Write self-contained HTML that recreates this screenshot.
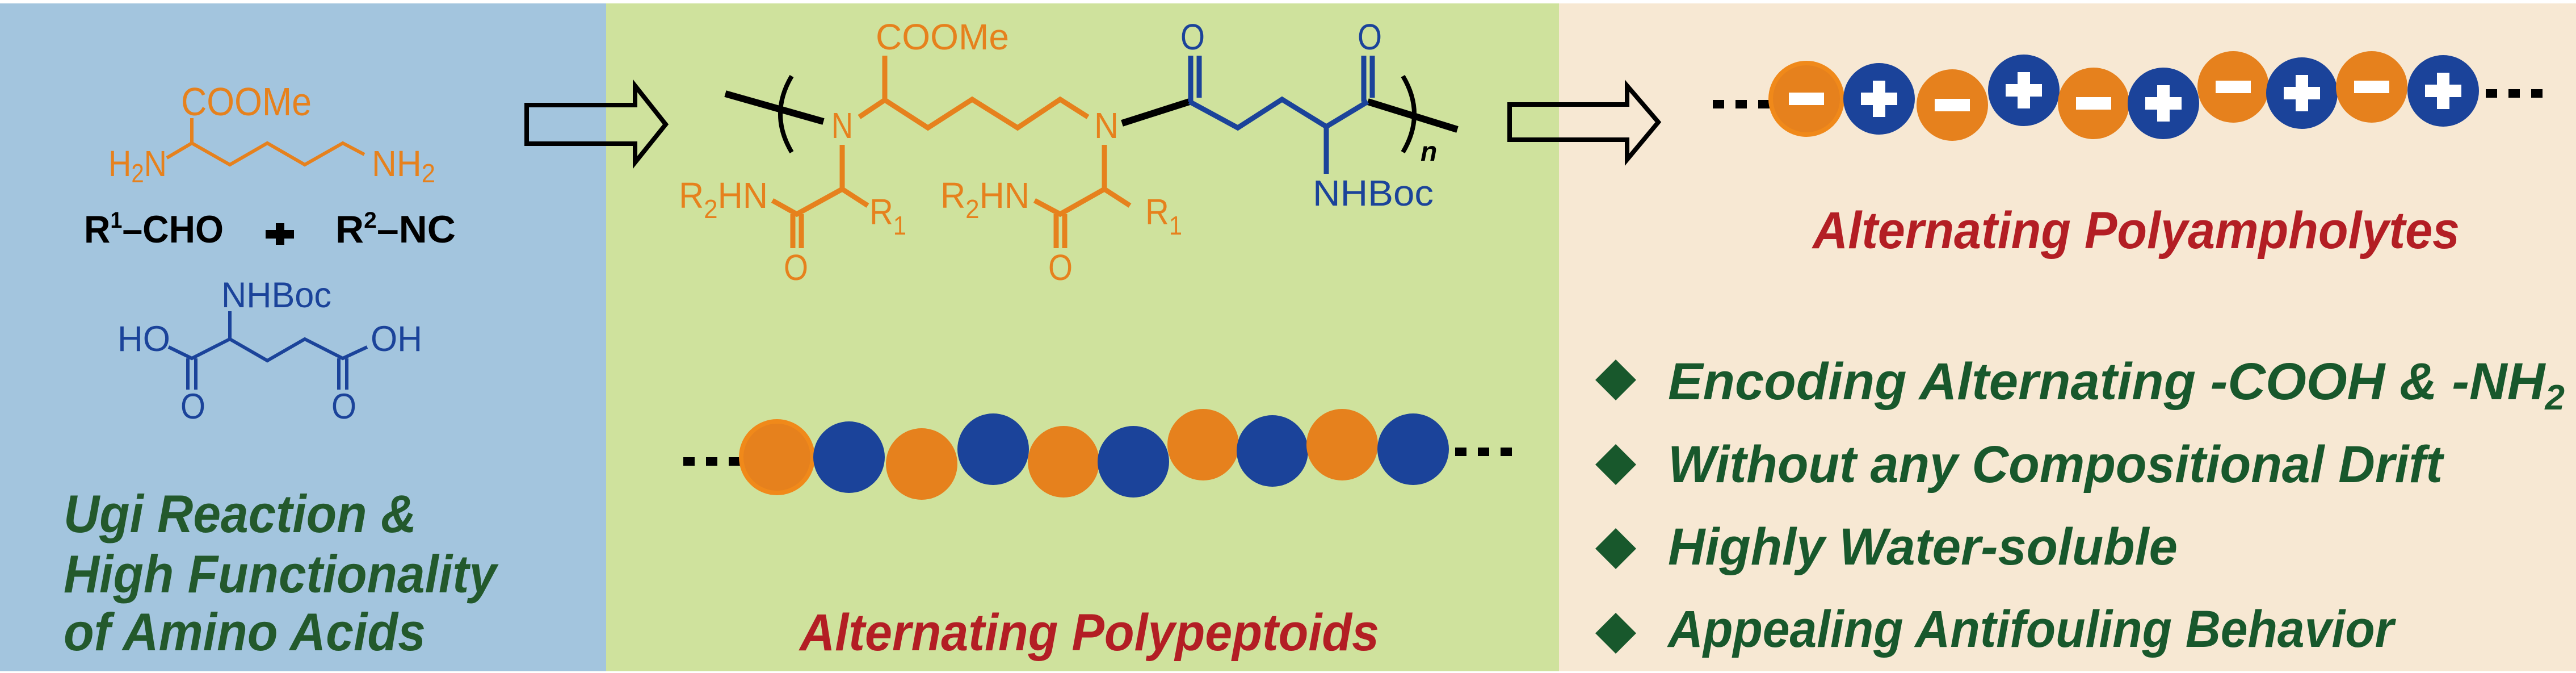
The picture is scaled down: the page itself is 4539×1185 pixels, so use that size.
<!DOCTYPE html>
<html><head><meta charset="utf-8"><style>
html,body{margin:0;padding:0;background:#fff}
svg{display:block}
.c{font-family:"Liberation Sans",sans-serif}
.h{font-family:"Liberation Sans",sans-serif;font-weight:bold;font-style:italic}
</style></head><body>
<svg width="4539" height="1185" viewBox="0 0 4539 1185" xmlns="http://www.w3.org/2000/svg">
<rect x="0" y="0" width="4539" height="1185" fill="#fff"/>
<rect x="0" y="6" width="1068" height="1176" fill="#a3c5de"/>
<rect x="1068" y="6" width="1679" height="1176" fill="#cfe29d"/>
<rect x="2747" y="6" width="1792" height="1176" fill="#f7e8d3"/>

<!-- Left panel chemistry -->
<g fill="none" stroke="#e6811d" stroke-width="6" stroke-linejoin="miter">
<polyline points="294,278 338,252 405,290 471,252 537,290 604,252 642,272"/>
<line x1="338" y1="252" x2="338" y2="208"/>
</g>
<g class="c" fill="#e6811d">
<text x="319" y="203" font-size="70" textLength="230" lengthAdjust="spacingAndGlyphs">COOMe</text>
<text x="191" y="310" font-size="64" textLength="103" lengthAdjust="spacingAndGlyphs">H<tspan font-size="46" dy="11">2</tspan><tspan dy="-11">N</tspan></text>
<text x="655" y="310" font-size="64" textLength="112" lengthAdjust="spacingAndGlyphs">NH<tspan font-size="46" dy="11">2</tspan></text>
</g>
<g class="c" fill="#000" font-weight="bold">
<text x="148" y="427" font-size="68" textLength="246" lengthAdjust="spacingAndGlyphs">R<tspan font-size="40" dy="-26">1</tspan><tspan dy="26">–CHO</tspan></text>
<text x="591" y="427" font-size="68" textLength="212" lengthAdjust="spacingAndGlyphs">R<tspan font-size="40" dy="-26">2</tspan><tspan dy="26">–NC</tspan></text>
</g>
<rect x="468" y="405" width="50" height="15" fill="#000"/>
<rect x="486" y="393" width="15" height="38" fill="#000"/>
<g fill="none" stroke="#1b439a" stroke-width="6">
<line x1="405" y1="548" x2="405" y2="597"/>
<polyline points="297,611 338,631 405,597 471,635 537,597 604,631 647,611"/>
<line x1="331" y1="631" x2="331" y2="686"/><line x1="345" y1="631" x2="345" y2="686"/>
<line x1="597" y1="631" x2="597" y2="686"/><line x1="611" y1="631" x2="611" y2="686"/>
</g>
<g class="c" fill="#1b439a">
<text x="390" y="541" font-size="63" textLength="194" lengthAdjust="spacingAndGlyphs">NHBoc</text>
<text x="207" y="618" font-size="63" textLength="93" lengthAdjust="spacingAndGlyphs">HO</text>
<text x="653" y="618" font-size="63" textLength="91" lengthAdjust="spacingAndGlyphs">OH</text>
<text x="318" y="737" font-size="63" textLength="44" lengthAdjust="spacingAndGlyphs">O</text>
<text x="584" y="737" font-size="63" textLength="44" lengthAdjust="spacingAndGlyphs">O</text>
</g>
<g class="h" fill="#23592c" font-size="94">
<text x="112" y="937" textLength="622" lengthAdjust="spacingAndGlyphs">Ugi Reaction &amp;</text>
<text x="112" y="1043" textLength="763" lengthAdjust="spacingAndGlyphs">High Functionality</text>
<text x="112" y="1145" textLength="638" lengthAdjust="spacingAndGlyphs">of Amino Acids</text>
</g>

<!-- arrows -->
<path d="M928,185 H1119 V151 L1173,219 L1119,286 V253 H928 Z" fill="none" stroke="#000" stroke-width="8" stroke-linejoin="miter"/>
<path d="M2660,184 H2867 V151 L2922,215 L2867,281 V246 H2660 Z" fill="none" stroke="#000" stroke-width="8" stroke-linejoin="miter"/>

<!-- Middle panel chemistry -->
<g fill="none" stroke="#000" stroke-width="12">
<line x1="1278" y1="165" x2="1451" y2="214"/>
<line x1="1977" y1="217" x2="2096" y2="179"/>
<line x1="2410" y1="179" x2="2568" y2="228"/>
</g>
<g fill="none" stroke="#000" stroke-width="8">
<path d="M1395,134 Q1355,201 1395,268"/>
<path d="M2472,134 Q2512,201 2472,268"/>
</g>
<g fill="none" stroke="#e6811d" stroke-width="9">
<polyline points="1514,206 1559,176 1635,225 1713,175 1793,225 1868,175 1917,206"/>
<line x1="1559" y1="176" x2="1559" y2="98"/>
<line x1="1484" y1="255" x2="1484" y2="333"/>
<polyline points="1529,362 1484,333 1404,377 1361,353"/>
<line x1="1397" y1="377" x2="1397" y2="437"/><line x1="1412" y1="377" x2="1412" y2="437"/>
<line x1="1946" y1="255" x2="1946" y2="333"/>
<polyline points="1991,362 1946,333 1868,377 1823,353"/>
<line x1="1861" y1="377" x2="1861" y2="437"/><line x1="1876" y1="377" x2="1876" y2="437"/>
</g>
<g fill="none" stroke="#1b439a" stroke-width="9">
<polyline points="2096,179 2181,225 2259,175 2337,223 2410,179"/>
<line x1="2098" y1="98" x2="2098" y2="179"/><line x1="2113" y1="98" x2="2113" y2="172"/>
<line x1="2403" y1="98" x2="2403" y2="179"/><line x1="2418" y1="98" x2="2418" y2="172"/>
<line x1="2337" y1="223" x2="2337" y2="306"/>
</g>
<g class="c" fill="#e6811d" font-size="64">
<text x="1543" y="87" textLength="235" lengthAdjust="spacingAndGlyphs">COOMe</text>
<text x="1465" y="243" textLength="38" lengthAdjust="spacingAndGlyphs">N</text>
<text x="1928" y="243" textLength="43" lengthAdjust="spacingAndGlyphs">N</text>
<text x="1196" y="366" textLength="157" lengthAdjust="spacingAndGlyphs">R<tspan font-size="46" dy="18">2</tspan><tspan dy="-18">HN</tspan></text>
<text x="1657" y="366" textLength="157" lengthAdjust="spacingAndGlyphs">R<tspan font-size="46" dy="18">2</tspan><tspan dy="-18">HN</tspan></text>
<text x="1532" y="395" textLength="65" lengthAdjust="spacingAndGlyphs">R<tspan font-size="46" dy="18">1</tspan></text>
<text x="2018" y="395" textLength="65" lengthAdjust="spacingAndGlyphs">R<tspan font-size="46" dy="18">1</tspan></text>
<text x="1381" y="493" textLength="43" lengthAdjust="spacingAndGlyphs">O</text>
<text x="1847" y="493" textLength="43" lengthAdjust="spacingAndGlyphs">O</text>
</g>
<g class="c" fill="#1b439a" font-size="64">
<text x="2080" y="87" textLength="43" lengthAdjust="spacingAndGlyphs">O</text>
<text x="2392" y="87" textLength="43" lengthAdjust="spacingAndGlyphs">O</text>
<text x="2313" y="362" textLength="213" lengthAdjust="spacingAndGlyphs">NHBoc</text>
</g>
<text x="2503" y="283" class="c" font-style="italic" font-weight="bold" font-size="48" fill="#000">n</text>

<!-- Middle beads -->
<g fill="#000">
<rect x="1204" y="805" width="20" height="15"/><rect x="1244" y="805" width="20" height="15"/><rect x="1284" y="805" width="20" height="15"/>
<rect x="2564" y="788" width="20" height="15"/><rect x="2604" y="788" width="20" height="15"/><rect x="2644" y="788" width="20" height="15"/>
</g>
<g>
<circle cx="1369" cy="805" r="63" fill="#e6811d" stroke="#f0891a" stroke-width="8"/>
<circle cx="1496" cy="805" r="63" fill="#1b439a"/>
<circle cx="1624" cy="817" r="63" fill="#e6811d"/>
<circle cx="1750" cy="791" r="63" fill="#1b439a"/>
<circle cx="1874" cy="813" r="63" fill="#e6811d"/>
<circle cx="1997" cy="813" r="63" fill="#1b439a"/>
<circle cx="2120" cy="783" r="63" fill="#e6811d"/>
<circle cx="2242" cy="794" r="63" fill="#1b439a"/>
<circle cx="2365" cy="783" r="63" fill="#e6811d"/>
<circle cx="2490" cy="791" r="63" fill="#1b439a"/>
</g>
<text x="1409" y="1145" class="h" font-size="92" fill="#b31e24" textLength="1021" lengthAdjust="spacingAndGlyphs">Alternating Polypeptoids</text>

<!-- Right panel beads -->
<g fill="#000">
<rect x="3018" y="176" width="20" height="15"/><rect x="3058" y="176" width="20" height="15"/><rect x="3098" y="176" width="20" height="15"/>
<rect x="4380" y="157" width="20" height="15"/><rect x="4420" y="157" width="20" height="15"/><rect x="4460" y="157" width="20" height="15"/>
</g>
<g>
<circle cx="3183" cy="174" r="63" fill="#e6811d" stroke="#f0891a" stroke-width="8"/>
<circle cx="3311" cy="174" r="63" fill="#1b439a"/>
<circle cx="3440" cy="185" r="63" fill="#e6811d"/>
<circle cx="3566" cy="159" r="63" fill="#1b439a"/>
<circle cx="3689" cy="182" r="63" fill="#e6811d"/>
<circle cx="3812" cy="182" r="63" fill="#1b439a"/>
<circle cx="3935" cy="153" r="63" fill="#e6811d"/>
<circle cx="4056" cy="164" r="63" fill="#1b439a"/>
<circle cx="4179" cy="153" r="63" fill="#e6811d"/>
<circle cx="4305" cy="160" r="63" fill="#1b439a"/>
</g>
<g fill="#fff">
<rect x="3152" y="163" width="62" height="22"/>
<rect x="3409" y="174" width="62" height="22"/>
<rect x="3658" y="171" width="62" height="22"/>
<rect x="3904" y="142" width="62" height="22"/>
<rect x="4148" y="142" width="62" height="22"/>
<rect x="3279" y="163" width="64" height="22"/><rect x="3300" y="142" width="22" height="64"/>
<rect x="3534" y="148" width="64" height="22"/><rect x="3555" y="127" width="22" height="64"/>
<rect x="3780" y="171" width="64" height="22"/><rect x="3801" y="150" width="22" height="64"/>
<rect x="4024" y="153" width="64" height="22"/><rect x="4045" y="132" width="22" height="64"/>
<rect x="4273" y="149" width="64" height="22"/><rect x="4294" y="128" width="22" height="64"/>
</g>
<text x="3194" y="437" class="h" font-size="92" fill="#b31e24" textLength="1140" lengthAdjust="spacingAndGlyphs">Alternating Polyampholytes</text>

<!-- bullets -->
<g fill="#18582c">
<path d="M2847,633 L2883,669 L2847,705 L2811,669 Z"/>
<path d="M2847,782 L2883,818 L2847,854 L2811,818 Z"/>
<path d="M2847,930 L2883,966 L2847,1002 L2811,966 Z"/>
<path d="M2847,1079 L2883,1115 L2847,1151 L2811,1115 Z"/>
</g>
<g class="h" fill="#18582c" font-size="92">
<text x="2939" y="703" textLength="1580" lengthAdjust="spacingAndGlyphs">Encoding Alternating -COOH &amp; -NH<tspan font-size="62" dy="18">2</tspan></text>
<text x="2939" y="849" textLength="1365" lengthAdjust="spacingAndGlyphs">Without any Compositional Drift</text>
<text x="2939" y="994" textLength="898" lengthAdjust="spacingAndGlyphs">Highly Water-soluble</text>
<text x="2939" y="1139" textLength="1279" lengthAdjust="spacingAndGlyphs">Appealing Antifouling Behavior</text>
</g>
</svg>
</body></html>
